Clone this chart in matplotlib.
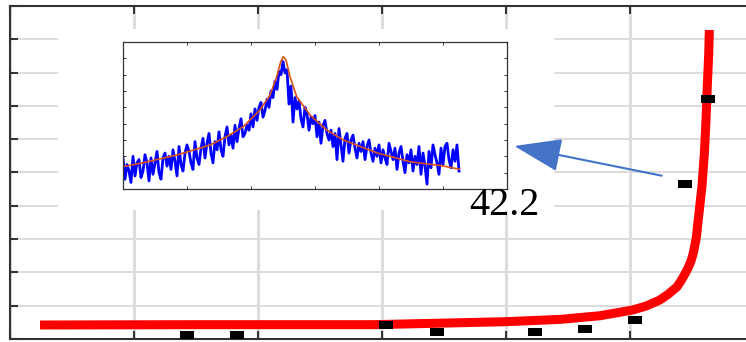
import numpy as np
import matplotlib
matplotlib.use('Agg')
import matplotlib.pyplot as plt
from matplotlib.patches import Rectangle, FancyArrowPatch, ArrowStyle

# main curve
red_x = [0.242, 1.5, 2.93, 4.0, 4.44, 4.76, 5.02, 5.13, 5.24, 5.31, 5.38, 5.42, 5.46, 5.49, 5.51, 5.535, 5.55, 5.58, 5.60, 5.613, 5.623, 5.635, 5.64]
red_y = [0.42, 0.43, 0.43, 0.52, 0.59, 0.70, 0.87, 0.99, 1.17, 1.35, 1.57, 1.80, 2.07, 2.32, 2.57, 3.05, 3.57, 4.57, 5.59, 6.58, 7.58, 8.58, 9.28]
# measured points
pts_x = [1.43, 1.83, 3.03, 3.44, 4.23, 4.64, 5.04, 5.44, 5.63]
pts_y = [0.12, 0.12, 0.42, 0.21, 0.21, 0.30, 0.58, 4.66, 7.21]
label = '42.2'

# inset spectrum
spec_y = [1.9, 0.6, 1.5, 1.1, 0.4, 2.0, 0.8, 1.6,
          1.8, 0.7, 1.1, 2.1, 1.6, 0.5, 1.9, 0.9,
          1.6, 2.3, 1.0, 0.6, 1.9, 2.2, 1.4, 2.0,
          1.2, 2.4, 1.7, 0.8, 2.6, 1.5, 1.1, 2.2,
          2.7, 2.3, 1.6, 1.2, 2.9, 1.9, 1.5, 2.5,
          3.1, 1.9, 2.8, 3.4, 2.2, 1.6, 2.9, 2.4,
          3.5, 2.4, 2.0, 3.2, 3.8, 2.7, 3.3, 2.5,
          3.9, 2.9, 3.7, 4.3, 3.2, 3.4, 3.9, 3.6,
          4.6, 3.8, 4.9, 4.2, 5.0, 5.3, 4.4, 4.8,
          5.5, 5.0, 6.0, 5.6, 6.6, 6.1, 7.2, 7.0,
          7.8, 7.1, 7.3, 5.2, 6.3, 4.1, 5.6, 4.9,
          5.4, 4.3, 3.8, 5.0, 4.6, 3.6, 4.4, 4.0,
          4.5, 3.2, 4.1, 2.8, 3.9, 4.2, 3.4, 3.0,
          3.6, 2.6, 3.4, 1.8, 3.7, 2.7, 1.7, 3.1,
          3.4, 2.2, 3.0, 3.3, 2.5, 1.9, 2.8, 2.3,
          2.9, 1.8, 2.6, 3.0, 2.2, 1.7, 2.5, 2.0,
          2.7, 1.6, 2.4, 1.9, 1.5, 2.8, 2.3, 1.8,
          2.5, 1.2, 2.2, 2.6, 1.7, 1.0, 2.1, 1.6,
          2.4, 1.1, 2.0, 1.5, 2.6, 0.9, 2.2, 1.4,
          0.3, 2.3, 1.3, 2.7, 2.1, 1.6, 0.9, 2.5,
          1.5, 2.6, 2.8, 1.8, 1.3, 2.4, 1.7, 2.7,
          1.1]
spec_x = np.linspace(0, 5.25, len(spec_y))
fit_x = [0.0, 0.317, 0.839, 1.359, 1.62, 1.88, 2.141, 2.297, 2.402, 2.464, 2.505, 2.547, 2.609, 2.714, 2.922, 3.183, 3.442, 3.964, 4.484, 5.005, 5.255]
fit_y = [1.37, 1.61, 2.08, 2.69, 3.20, 3.82, 4.84, 5.76, 6.88, 7.80, 8.10, 7.90, 6.88, 5.65, 4.53, 3.61, 3.00, 2.22, 1.67, 1.41, 1.21]

W, H = 746, 342
fig = plt.figure(figsize=(W/100, H/100), dpi=100)
ax = fig.add_axes([10/W, 3/H, 744/W, 333/H])
ax.set_xlim(0, 6)
ax.set_ylim(0, 10)
ax.set_xticks(range(7))
ax.set_yticks(range(11))
ax.set_axisbelow(True)
ax.grid(True, axis='x', color='#dcdcdc', lw=2.1)
ax.grid(True, axis='y', color='#dcdcdc', lw=1.4)
ax.tick_params(direction='in', length=6, width=1.5, color='#333333',
               top=True, right=True, labelbottom=False, labelleft=False)
for s in ax.spines.values():
    s.set_color('#333333')
    s.set_linewidth(1.5)

# white area behind the inset hides the grid
ax.add_patch(Rectangle((58/W, 1-210/H), 496/W, 181/H, transform=fig.transFigure,
                       facecolor='white', edgecolor='none', zorder=1))

ax.plot(red_x, red_y, color='red', lw=6.5, solid_capstyle='butt',
        solid_joinstyle='round', zorder=3)
rect = [(-7, -4), (7, -4), (7, 4), (-7, 4), (-7, -4)]
ax.plot(pts_x, pts_y, ls='none', marker=rect, ms=10, mfc='black', mew=0,
        zorder=4, clip_on=False)

arr = FancyArrowPatch((661.7/W, 1-175.7/H), (514.3/W, 1-146/H), transform=fig.transFigure,
                      arrowstyle=ArrowStyle('-|>', head_length=29.8, head_width=10.5),
                      mutation_scale=1, color='#4472C4', lw=1.5, shrinkA=0, shrinkB=0, zorder=5)
ax.add_patch(arr)
fig.text(504.5/W, 1-215/H, label, ha='center', va='baseline',
         family='Liberation Serif', fontsize=29, color='black', zorder=6)

ins = fig.add_axes([123/W, 1-189/H, 384/W, 147/H])
ins.plot(spec_x, spec_y, color='#0000ff', lw=2.0)
ins.plot(fit_x, fit_y, color='#d95319', lw=1.2)
ins.set_xlim(0, 6)
ins.set_ylim(0, 9)
ins.set_xticks(range(7))
ins.set_yticks(range(10))
ins.tick_params(direction='in', length=2.5, width=0.7, color='#333333',
                top=True, right=True, labelbottom=False, labelleft=False)
for s in ins.spines.values():
    s.set_color('#333333')
    s.set_linewidth(0.9)

fig.savefig('out.png', dpi=100)
